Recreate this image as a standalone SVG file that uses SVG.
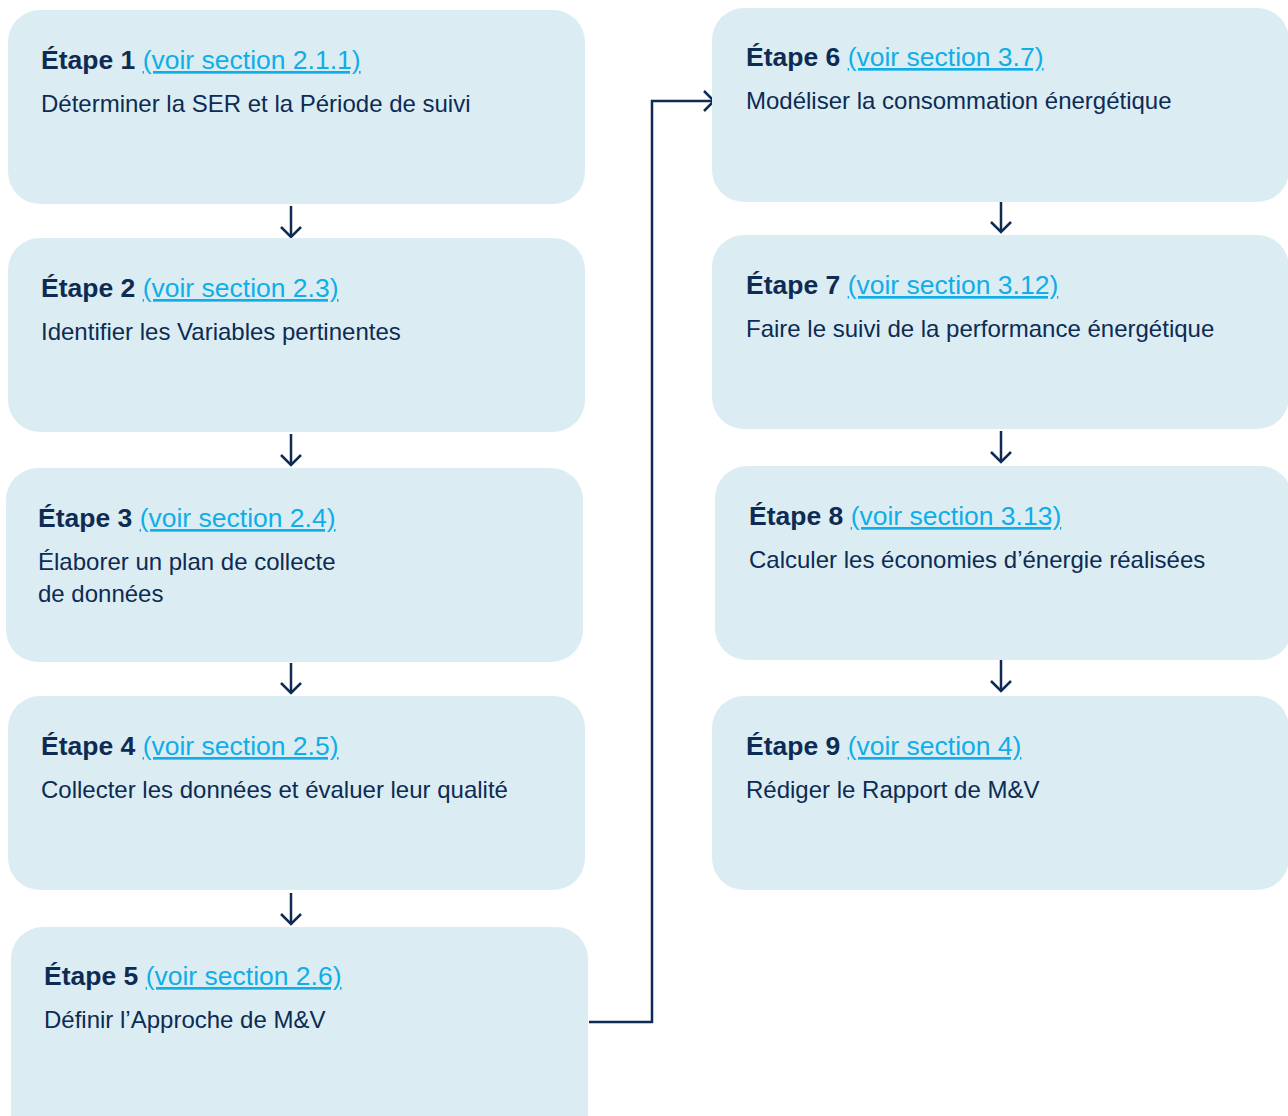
<svg xmlns="http://www.w3.org/2000/svg" width="1288" height="1116" viewBox="0 0 1288 1116">
<defs>
<style>
.box{fill:#DBEDF3;}
.t{font-family:"Liberation Sans",Arial,sans-serif;font-size:26.5px;fill:#0D2B53;}
.b{font-weight:bold;}
.lk{fill:#10ADE8;text-decoration:underline;}
.d{font-family:"Liberation Sans",Arial,sans-serif;font-size:24px;fill:#0D2B53;}
.c{fill:none;stroke:#0D2B53;stroke-width:2.5;}
</style>
<marker id="ah" markerWidth="14" markerHeight="24" refX="11" refY="11" orient="auto" markerUnits="userSpaceOnUse">
<path d="M1,1 L11,11 L1,21" fill="none" stroke="#0D2B53" stroke-width="2.5"/>
</marker>
</defs>
<rect width="1288" height="1116" fill="#FFFFFF"/>
<g id="connectors">
<line class="c" x1="291" y1="206" x2="291" y2="237" marker-end="url(#ah)"/>
<line class="c" x1="291" y1="434" x2="291" y2="465" marker-end="url(#ah)"/>
<line class="c" x1="291" y1="663" x2="291" y2="693" marker-end="url(#ah)"/>
<line class="c" x1="291" y1="893" x2="291" y2="924" marker-end="url(#ah)"/>
<line class="c" x1="1001" y1="202" x2="1001" y2="232" marker-end="url(#ah)"/>
<line class="c" x1="1001" y1="431" x2="1001" y2="462" marker-end="url(#ah)"/>
<line class="c" x1="1001" y1="660" x2="1001" y2="691" marker-end="url(#ah)"/>
<polyline class="c" points="589,1022 652,1022 652,101 714,101" marker-end="url(#ah)"/>
</g>
<g id="step1">
<rect class="box" x="8" y="10" width="577" height="194" rx="32"/>
<text class="t" x="41" y="69"><tspan class="b">Étape 1</tspan> <tspan class="lk">(voir section 2.1.1)</tspan></text>
<text class="d" x="41" y="112">Déterminer la SER et la Période de suivi</text>
</g>
<g id="step2">
<rect class="box" x="8" y="238" width="577" height="194" rx="32"/>
<text class="t" x="41" y="297"><tspan class="b">Étape 2</tspan> <tspan class="lk">(voir section 2.3)</tspan></text>
<text class="d" x="41" y="340">Identifier les Variables pertinentes</text>
</g>
<g id="step3">
<rect class="box" x="6" y="468" width="577" height="194" rx="32"/>
<text class="t" x="38" y="527"><tspan class="b">Étape 3</tspan> <tspan class="lk">(voir section 2.4)</tspan></text>
<text class="d" x="38" y="570">Élaborer un plan de collecte</text>
<text class="d" x="38" y="602">de données</text>
</g>
<g id="step4">
<rect class="box" x="8" y="696" width="577" height="194" rx="32"/>
<text class="t" x="41" y="755"><tspan class="b">Étape 4</tspan> <tspan class="lk">(voir section 2.5)</tspan></text>
<text class="d" x="41" y="798">Collecter les données et évaluer leur qualité</text>
</g>
<g id="step5">
<rect class="box" x="11" y="927" width="577" height="220" rx="32"/>
<text class="t" x="44" y="985"><tspan class="b">Étape 5</tspan> <tspan class="lk">(voir section 2.6)</tspan></text>
<text class="d" x="44" y="1028">Définir l’Approche de M&amp;V</text>
</g>
<g id="step6">
<rect class="box" x="712" y="8" width="577" height="194" rx="32"/>
<text class="t" x="746" y="66"><tspan class="b">Étape 6</tspan> <tspan class="lk">(voir section 3.7)</tspan></text>
<text class="d" x="746" y="109">Modéliser la consommation énergétique</text>
</g>
<g id="step7">
<rect class="box" x="712" y="235" width="577" height="194" rx="32"/>
<text class="t" x="746" y="294"><tspan class="b">Étape 7</tspan> <tspan class="lk">(voir section 3.12)</tspan></text>
<text class="d" x="746" y="337">Faire le suivi de la performance énergétique</text>
</g>
<g id="step8">
<rect class="box" x="715" y="466" width="577" height="194" rx="32"/>
<text class="t" x="749" y="525"><tspan class="b">Étape 8</tspan> <tspan class="lk">(voir section 3.13)</tspan></text>
<text class="d" x="749" y="568">Calculer les économies d’énergie réalisées</text>
</g>
<g id="step9">
<rect class="box" x="712" y="696" width="577" height="194" rx="32"/>
<text class="t" x="746" y="755"><tspan class="b">Étape 9</tspan> <tspan class="lk">(voir section 4)</tspan></text>
<text class="d" x="746" y="798">Rédiger le Rapport de M&amp;V</text>
</g>
</svg>
